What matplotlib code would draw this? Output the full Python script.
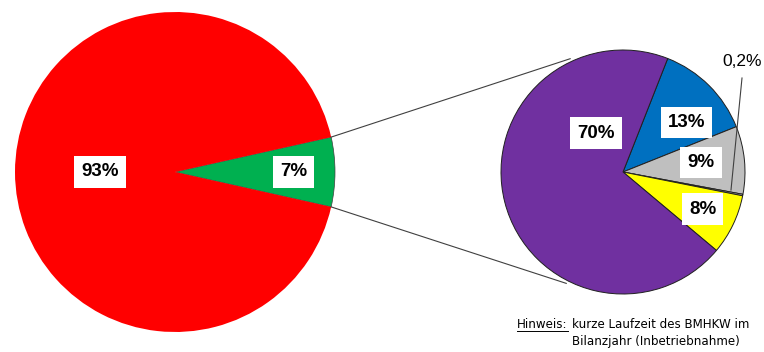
import matplotlib.pyplot as plt
import numpy as np

plt.rcParams['font.family'] = ['Liberation Sans', 'DejaVu Sans']

# main pie
main_labels = ['7%', '93%']
main_values = [7, 93]
main_colors = ['#00B050', '#FF0000']

# breakdown of the 7% slice
sub_labels = ['13%', '9%', '0,2%', '8%', '70%']
sub_values = [13, 9, 0.2, 8, 70]
sub_colors = ['#0070C0', '#BFBFBF', '#BFBFBF', '#FFFF00', '#7030A0']

fig = plt.figure(figsize=(7.64, 3.52), dpi=100)
ax = fig.add_axes([0, 0, 1, 1])

c1, r1 = (175, 172), 160
c2, r2 = (623, 172), 122

# y axis gets inverted below, so pie angles are mirrored
half = main_values[0] / 100 * 180
w1, _ = ax.pie(main_values, colors=main_colors, center=c1, radius=r1,
               startangle=half, counterclock=False,
               wedgeprops=dict(linewidth=0), frame=True)
w1[0].set_edgecolor('#404040')
w1[0].set_linewidth(0.5)
w2, _ = ax.pie(sub_values, colors=sub_colors, center=c2, radius=r2,
               startangle=-68.5, counterclock=True,
               wedgeprops=dict(edgecolor='#202020', linewidth=0.7), frame=True)
ax.set_xlim(0, 764)
ax.set_ylim(352, 0)
ax.set_aspect('equal')
ax.axis('off')


def pt(c, r, ang):
    a = np.deg2rad(ang)
    return c[0] + r * np.cos(a), c[1] - r * np.sin(a)


box = dict(boxstyle='square,pad=0.38', facecolor='white', edgecolor='none')

# main labels
for lab, r, ang in [(main_labels[0], 0.74, 0), (main_labels[1], 0.47, 180)]:
    x, y = pt(c1, r1 * r, ang)
    ax.text(x, y, lab, ha='center', va='center', fontsize=13.5,
            fontweight='bold', bbox=box)

# sub labels
sub_pos = {'70%': (0.39, 125), '13%': (0.66, 38), '9%': (0.645, 7), '8%': (0.72, -25)}
for lab in sub_labels:
    if lab in sub_pos:
        r, ang = sub_pos[lab]
        x, y = pt(c2, r2 * r, ang)
        ax.text(x, y, lab, ha='center', va='center', fontsize=13.5,
                fontweight='bold', bbox=box)

ax.text(742, 62, '0,2%', ha='center', va='center', fontsize=12.5)
ax.plot([742, 731], [78, 190], color='#404040', lw=0.8)

# connector lines
for a1, a2 in [(half, 115), (-half, -117)]:
    x1, y1 = pt(c1, r1, a1)
    x2, y2 = pt(c2, r2 + 3, a2)
    ax.plot([x1, x2], [y1, y2], color='#404040', lw=0.8)

# note
fs = 8.6
t1 = ax.text(517, 325, 'Hinweis:', fontsize=fs, family='DejaVu Sans', va='center')
fig.canvas.draw()
bb = t1.get_window_extent().transformed(ax.transData.inverted())
ax.plot([bb.x0, bb.x1], [bb.y0 - 0.5, bb.y0 - 0.5], color='black', lw=0.7)
ax.text(bb.x1 + 4, 325, 'kurze Laufzeit des BMHKW im', fontsize=fs,
        family='DejaVu Sans', va='center')
ax.text(bb.x1 + 4, 341, 'Bilanzjahr (Inbetriebnahme)', fontsize=fs,
        family='DejaVu Sans', va='center')

fig.savefig('out.png', dpi=100)
